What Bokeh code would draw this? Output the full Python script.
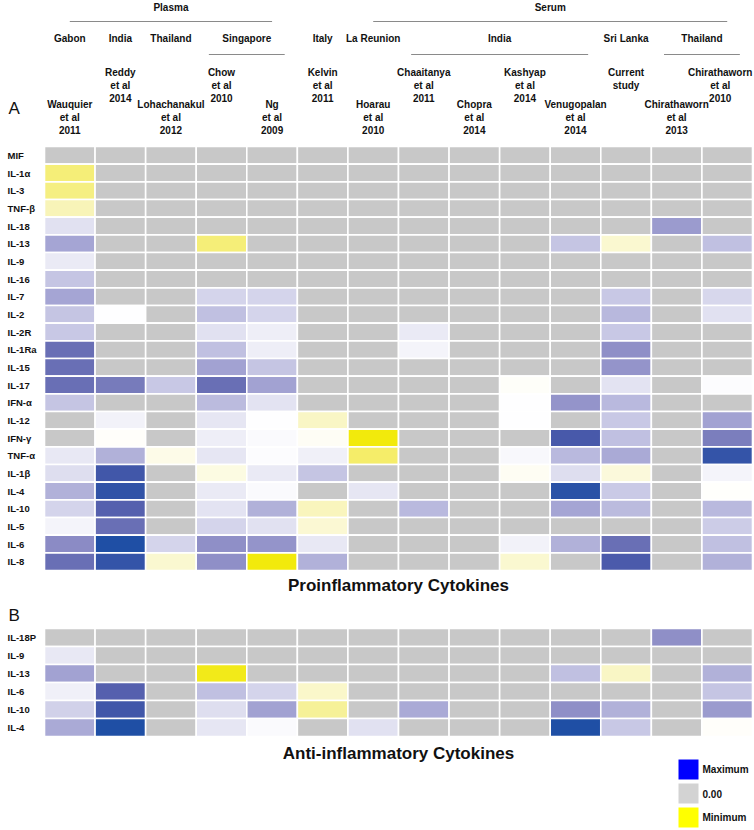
import numpy as np
from bokeh.plotting import figure
from bokeh.models import ColumnDataSource, LinearColorMapper, Range1d
from bokeh.core.properties import value
from bokeh.embed import file_html
from bokeh.resources import INLINE

N = float("nan")

# ---------------- data ----------------
studies = ["Wauquier\net al\n2011", "Reddy\net al\n2014", "Lohachanakul\net al\n2012",
           "Chow\net al\n2010", "Ng\net al\n2009", "Kelvin\net al\n2011",
           "Hoarau\net al\n2010", "Chaaitanya\net al\n2011", "Chopra\net al\n2014",
           "Kashyap\net al\n2014", "Venugopalan\net al\n2014", "Current\nstudy",
           "Chirathaworn\net al\n2013", "Chirathaworn\net al\n2010"]

countries = ["Gabon", "India", "Thailand", "Singapore", "Italy", "La Reunion",
             "India", "Sri Lanka", "Thailand"]
country_first = [0, 1, 2, 3, 5, 6, 7, 11, 12]
country_last = [0, 1, 2, 4, 5, 6, 10, 11, 13]

sample_types = ["Plasma", "Serum"]
sample_first = [0, 6]
sample_last = [4, 13]

pro_cytokines = ["MIF", "IL-1α", "IL-3", "TNF-β", "IL-18", "IL-13", "IL-9", "IL-16",
                 "IL-7", "IL-2", "IL-2R", "IL-1Ra", "IL-15", "IL-17", "IFN-α", "IL-12",
                 "IFN-γ", "TNF-α", "IL-1β", "IL-4", "IL-10", "IL-5", "IL-6", "IL-8"]

pro_values = [
    [N, N, N, N, N, N, N, N, N, N, N, N, N, N],
    [-0.6, N, N, N, N, N, N, N, N, N, N, N, N, N],
    [-0.55, N, N, N, N, N, N, N, N, N, N, N, N, N],
    [-0.3, N, N, N, N, N, N, N, N, N, N, N, N, N],
    [0.12, N, N, N, N, N, N, N, N, N, N, N, 0.45, N],
    [0.4, N, N, -0.6, N, N, N, N, N, N, 0.25, -0.2, N, 0.28],
    [0.08, N, N, N, N, N, N, N, N, N, N, N, N, N],
    [0.25, N, N, N, N, N, N, N, N, N, N, N, N, N],
    [0.4, N, N, 0.18, 0.18, N, N, N, N, N, N, 0.24, N, 0.17],
    [0.25, 0.0, N, 0.28, 0.18, N, N, N, N, N, N, 0.32, N, 0.12],
    [0.24, N, N, 0.12, 0.07, N, N, 0.08, N, N, N, 0.24, N, N],
    [0.65, N, N, 0.28, 0.07, N, N, 0.04, N, N, N, 0.5, N, N],
    [0.65, N, N, 0.42, 0.25, N, N, N, N, N, N, 0.48, N, N],
    [0.65, 0.6, 0.24, 0.65, 0.42, N, N, N, N, -0.03, N, 0.11, N, 0.01],
    [0.25, N, N, 0.3, 0.11, N, N, N, N, 0.0, 0.48, 0.31, N, N],
    [N, 0.05, N, 0.1, 0.0, -0.25, N, N, N, 0.0, N, 0.24, N, 0.42],
    [N, -0.02, N, 0.07, 0.02, -0.04, -1.0, N, N, N, 0.82, 0.28, N, 0.58],
    [0.09, 0.35, -0.1, 0.1, 0.01, 0.06, -0.65, N, N, 0.03, 0.31, 0.38, N, 0.9],
    [0.14, 0.85, N, -0.12, 0.08, 0.25, N, N, N, -0.05, 0.14, -0.15, N, 0.04],
    [0.35, 0.92, N, 0.08, 0.02, N, 0.1, N, N, N, 0.95, 0.23, N, -0.01],
    [0.18, 0.75, N, 0.11, 0.35, -0.28, N, 0.31, N, N, 0.4, 0.3, N, 0.31],
    [0.04, 0.65, N, 0.18, 0.12, -0.18, N, N, N, N, N, N, N, 0.22],
    [0.52, 1.0, 0.18, 0.5, 0.48, 0.09, N, N, N, 0.05, 0.35, 0.65, N, 0.28],
    [0.65, 0.9, -0.2, 0.5, -1.0, 0.35, N, N, N, -0.2, N, 0.8, N, 0.35],
]

anti_cytokines = ["IL-18P", "IL-9", "IL-13", "IL-6", "IL-10", "IL-4"]
anti_values = [
    [N, N, N, N, N, N, N, N, N, N, N, N, 0.5, N],
    [0.09, N, N, N, N, N, N, N, N, N, N, N, N, N],
    [0.42, N, N, -0.95, N, N, N, N, N, N, 0.28, -0.25, N, 0.35],
    [0.06, 0.75, N, 0.28, 0.18, -0.22, N, N, N, N, N, N, N, 0.25],
    [0.2, 0.85, N, 0.14, 0.42, -0.45, N, 0.38, N, N, 0.5, 0.35, N, 0.45],
    [0.38, 1.0, N, 0.1, 0.02, N, 0.12, N, N, N, 1.0, 0.24, N, -0.02],
]

legend_labels = ["Maximum", "0.00", "Minimum"]
legend_colors = ["#0000ff", "#d3d3d3", "#ffff00"]

# ---------------- layout constants ----------------
X_LEFT, X_RIGHT = 44.0, 752.0
CW = (X_RIGHT - X_LEFT) / len(studies)
A_TOP, A_RH = 146.0, 424.0 / 24
B_TOP, B_RH = 628.0, 18.0
GRAY = "#c8c8c8"
INK = "#111111"

FONT = value("'Liberation Sans Narrow', 'Liberation Sans', Arial, sans-serif")
FONT_R = value("'Liberation Sans', Arial, sans-serif")


def cc(i):
    return X_LEFT + (i + 0.5) * CW


# colour map: yellow (min) -> white -> blue (max), gray for no data
anchors = [(-1.0, "#f2ea0c"), (-0.6, "#f5ee78"), (-0.3, "#f8f4b8"), (0.0, "#ffffff"),
           (0.1, "#e6e6f3"), (0.25, "#c6c6e4"), (0.4, "#a6a6d4"), (0.5, "#9090c8"),
           (0.65, "#6a70b5"), (0.8, "#4c5aab"), (1.0, "#1f4fa5")]
pos = np.array([a[0] for a in anchors])
rgb = np.array([[int(c[1][k:k + 2], 16) for k in (1, 3, 5)] for c in anchors], float)
t = np.linspace(-1, 1, 256)
palette = ["#%02x%02x%02x" % tuple(int(round(np.interp(v, pos, rgb[:, k]))) for k in range(3))
           for v in t]
mapper = LinearColorMapper(palette=palette, low=-1, high=1, nan_color=GRAY)

p = figure(width=754, height=830, x_range=Range1d(0, 754), y_range=Range1d(830, 0),
           output_backend="svg", toolbar_location=None, min_border=0)
p.axis.visible = False
p.grid.visible = False
p.outline_line_color = None
p.background_fill_color = "white"


def heat(names, vals, top, rh):
    xs, ys, vs = [], [], []
    for r, row in enumerate(vals):
        for c, v in enumerate(row):
            xs.append(cc(c))
            ys.append(top + (r + 0.5) * rh)
            vs.append(v)
    src = ColumnDataSource(dict(x=xs, y=ys, v=vs))
    p.rect("x", "y", width=CW, height=rh, source=src,
           fill_color={"field": "v", "transform": mapper},
           line_color="white", line_width=1.6)
    lsrc = ColumnDataSource(dict(x=[7] * len(names),
                                 y=[top + (r + 0.5) * rh for r in range(len(names))],
                                 t=names))
    p.text("x", "y", text="t", source=lsrc, text_font=FONT, text_font_style="bold",
           text_font_size="9.5px", text_align="left", text_baseline="middle",
           text_color=INK)


heat(pro_cytokines, pro_values, A_TOP, A_RH)
heat(anti_cytokines, anti_values, B_TOP, B_RH)

# study labels (staggered in two tiers)
sx, sy, soff = [], [], []
for i, s in enumerate(studies):
    sx.append(cc(i))
    upper = (i % 2 == 1)
    sy.append(66.0 if upper else 98.0)
    soff.append(-7 if i == len(studies) - 1 else 0)
ssrc = ColumnDataSource(dict(x=sx, y=sy, t=studies, xo=soff))
p.text("x", "y", text="t", x_offset="xo", source=ssrc, text_font=FONT, text_font_style="bold",
       text_font_size="10px", text_align="center", text_baseline="top",
       text_line_height=1.22, text_color=INK)

# countries
cx = [(X_LEFT + f * CW + X_LEFT + (l + 1) * CW) / 2 for f, l in zip(country_first, country_last)]
csrc = ColumnDataSource(dict(x=cx, y=[38] * len(countries), t=countries))
p.text("x", "y", text="t", source=csrc, text_font=FONT, text_font_style="bold",
       text_font_size="10px", text_align="center", text_baseline="middle", text_color=INK)

# sub-group lines (multi-column countries)
for f, l in zip(country_first, country_last):
    if l > f:
        p.line([X_LEFT + (f + 0.25) * CW, X_LEFT + (l + 0.75) * CW], [54, 54],
               line_color="#8a8a8a", line_width=1.2)

# sample type headers and lines
for name, f, l in zip(sample_types, sample_first, sample_last):
    p.line([cc(f), cc(l)], [21, 21], line_color="#8a8a8a", line_width=1.2)
p.text(x=[(cc(f) + cc(l)) / 2 for f, l in zip(sample_first, sample_last)], y=[7, 7],
       text=sample_types, text_font=FONT, text_font_style="bold", text_font_size="10px",
       text_align="center", text_baseline="middle", text_color=INK)

# panel letters
p.text(x=[8, 8], y=[108, 615], text=["A", "B"], text_font=FONT_R, text_font_size="17px",
       text_align="left", text_baseline="middle", text_color=INK)

# panel titles
mid = (X_LEFT + X_RIGHT) / 2
p.text(x=[mid, mid], y=[585, 753], text=["Proinflammatory Cytokines", "Anti-inflammatory Cytokines"],
       text_font=FONT, text_font_style="bold", text_font_size="17px",
       text_align="center", text_baseline="middle", text_color=INK)

# colour legend
ly = [769 + 24 * k for k in range(len(legend_labels))]
lsrc = ColumnDataSource(dict(x=[688] * 3, y=ly, c=legend_colors, t=legend_labels,
                             tx=[702] * 3))
p.rect("x", "y", width=20, height=20, fill_color="c", line_color=None, source=lsrc)
p.text("tx", "y", text="t", source=lsrc, text_font=FONT, text_font_style="bold",
       text_font_size="10px", text_align="left", text_baseline="middle", text_color=INK)

open("out.html", "w").write(file_html(p, INLINE))
